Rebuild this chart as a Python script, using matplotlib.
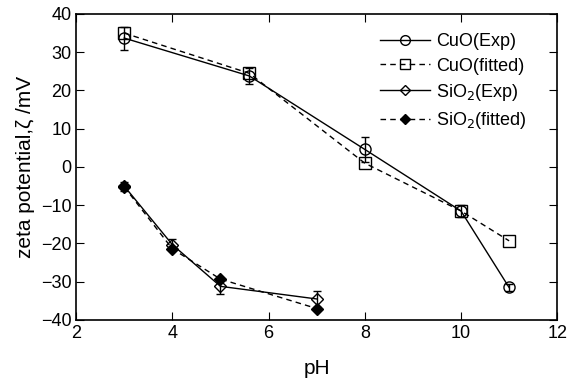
import matplotlib
matplotlib.use("Agg")
import matplotlib.pyplot as plt
from matplotlib.lines import Line2D

plt.rcParams['font.family'] = ['Liberation Sans', 'DejaVu Sans']

# CuO data
ph_cuo = [3, 5.6, 8, 10, 11]
cuo_exp = [33.7, 23.8, 4.6, -11.5, -31.5]
cuo_exp_err = [3.0, 2.2, 3.2, 1.5, 1.0]
cuo_fit = [35.0, 24.5, 1.0, -11.5, -19.3]

# SiO2 data
ph_sio2 = [3, 4, 5, 7]
sio2_exp = [-5.0, -20.3, -31.2, -34.5]
sio2_exp_err = [1.2, 1.5, 2.0, 2.0]
sio2_fit = [-5.2, -21.4, -29.3, -37.0]

fig = plt.figure(figsize=(5.68, 3.83), dpi=100)
ax = fig.add_axes([0.134, 0.1645, 0.847, 0.799])

dash = (0, (4, 3))
ax.errorbar(ph_cuo, cuo_exp, yerr=cuo_exp_err, color='black', lw=1, marker='o', ms=8,
            mfc='none', mec='black', capsize=3, elinewidth=1)
ax.plot(ph_cuo, cuo_fit, color='black', lw=1, ls=dash, marker='s', ms=8,
        mfc='none', mec='black')
ax.errorbar(ph_sio2, sio2_exp, yerr=sio2_exp_err, color='black', lw=1, marker='D', ms=6,
            mfc='none', mec='black', capsize=3, elinewidth=1)
ax.plot(ph_sio2, sio2_fit, color='black', lw=1, ls=dash, marker='D', ms=6,
        mfc='black', mec='black')

ax.set_xlim(2, 12)
ax.set_ylim(-40, 40)
ax.set_xticks([2, 4, 6, 8, 10, 12])
ax.set_yticks(range(-40, 41, 10))
ax.tick_params(direction='in', top=True, right=True, length=6, labelsize=13)
for s in ax.spines.values():
    s.set_linewidth(1.2)

ax.set_xlabel('pH', fontsize=15, labelpad=12)
ax.set_ylabel('zeta potential,\u03b6 /mV', fontsize=15)

handles = [
    Line2D([], [], color='black', lw=1, marker='o', ms=7, mfc='none'),
    Line2D([], [], color='black', lw=1, ls=dash, marker='s', ms=7, mfc='none'),
    Line2D([], [], color='black', lw=1, marker='D', ms=5, mfc='none'),
    Line2D([], [], color='black', lw=1, ls=dash, marker='D', ms=5, mfc='black'),
]
labels = ['CuO(Exp)', 'CuO(fitted)', 'SiO$_2$(Exp)', 'SiO$_2$(fitted)']
ax.legend(handles, labels, loc='upper right', frameon=False, fontsize=13,
          handlelength=2.8, labelspacing=0.4, handletextpad=0.3,
          bbox_to_anchor=(0.97, 0.99))

fig.savefig('out.png', dpi=100)
